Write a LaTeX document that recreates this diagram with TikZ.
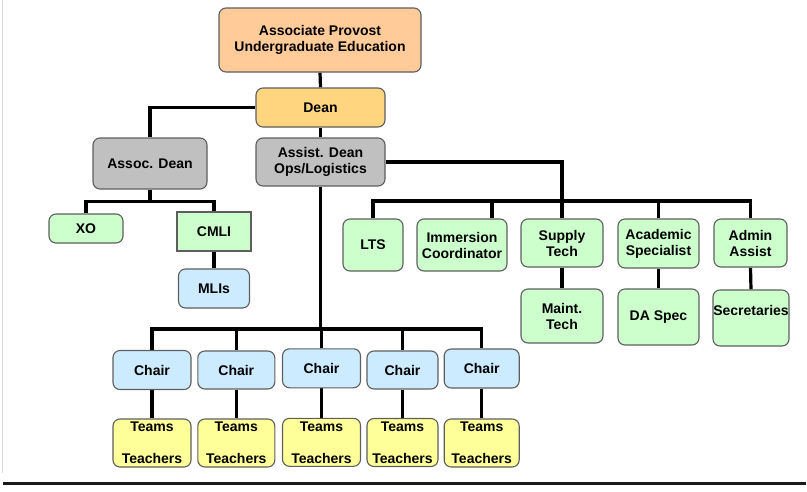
\documentclass[tikz,border=0pt]{standalone}
\usepackage{fontspec}
\setmainfont{Liberation Sans}
\usetikzlibrary{backgrounds}
\definecolor{peach}{HTML}{FFCC99}
\definecolor{gold}{HTML}{FFD580}
\definecolor{midgray}{HTML}{C0C0C0}
\definecolor{lgreen}{HTML}{CCFFCC}
\definecolor{lblue}{HTML}{CCEBFF}
\definecolor{lyellow}{HTML}{FFFF99}
\definecolor{bordergray}{HTML}{5E5E5E}
\definecolor{edgegray}{HTML}{D8D8D8}
\tikzset{
  box/.style={draw=bordergray, line width=1.1pt, rounded corners=7pt, inner sep=0pt,
    align=center, text=black, font=\bfseries\fontsize{14}{16}\selectfont},
  sz/.style 2 args={minimum width=#1, minimum height=#2},
  con/.style={line width=3.2pt, draw=black},
}
\begin{document}
\begin{tikzpicture}[x=1pt, y=-1pt]
\useasboundingbox (0,0) rectangle (807,491);
% frame lines
\draw[edgegray, line width=1pt] (2.7,0) coordinate (fl1) -- (2.7,473) coordinate (fl2);
\draw[black!90, line width=2.3pt] (3,483.5) coordinate (bl1) -- (806,483.5) coordinate (bl2);

% top
\node[box, fill=peach, sz={202}{64}] (prov) at (320,40) {Associate Provost\\Undergraduate Education};
\node[box, fill=gold, sz={129}{39}] (dean) at (320.5,107.5) {Dean};
\node[box, fill=midgray, sz={114}{51}] (adean) at (150,163.5) {Assoc. Dean};
\node[box, fill=midgray, sz={129}{48}] (asdean) at (320.5,162) {Assist. Dean\\Ops/Logistics};

% assoc dean branch
\node[box, fill=lgreen, sz={74}{29}] (xo) at (86,228.5) {XO};
\node[box, fill=lgreen, sz={74}{39}, rounded corners=0pt] (cmli) at (214,231.5) {CMLI};
\node[box, fill=lblue, sz={71}{39}] (mlis) at (214,288.5) {MLIs};

% ops branch
\node[box, fill=lgreen, sz={60}{52}] (lts) at (373,245) {LTS};
\node[box, fill=lgreen, sz={90}{52}] (imm) at (462,245) {Immersion\\Coordinator};
\node[box, fill=lgreen, sz={82}{48}] (sup) at (562,243) {Supply\\Tech};
\node[box, fill=lgreen, sz={81}{49}] (acad) at (658.5,243.5) {Academic\\Specialist};
\node[box, fill=lgreen, sz={73}{48}] (admin) at (750.5,243) {Admin\\Assist};
\node[box, fill=lgreen, sz={82}{54}] (maint) at (562,316) {Maint.\\Tech};
\node[box, fill=lgreen, sz={81}{56}] (daspec) at (658.5,317) {DA Spec};
\node[box, fill=lgreen, sz={76}{56}] (secr) at (751,318) {\raisebox{16pt}{Secretaries}};

% chairs
\node[box, fill=lblue, sz={78}{39}] (c1) at (152,370) {Chair};
\node[box, fill=lblue, sz={77}{38}] (c2) at (236.3,370) {Chair};
\node[box, fill=lblue, sz={78}{39}] (c3) at (321.5,368.3) {Chair};
\node[box, fill=lblue, sz={71}{38}] (c4) at (402.5,370) {Chair};
\node[box, fill=lblue, sz={75}{39}] (c5) at (481.7,368.5) {Chair};

\node[box, fill=lyellow, sz={78}{48}] (t1) at (152,443) {Teams\\[16pt]Teachers};
\node[box, fill=lyellow, sz={77}{48}] (t2) at (236.3,443) {Teams\\[16pt]Teachers};
\node[box, fill=lyellow, sz={78}{48}] (t3) at (321.5,442.3) {Teams\\[16pt]Teachers};
\node[box, fill=lyellow, sz={71}{48}] (t4) at (402.5,442.5) {Teams\\[16pt]Teachers};
\node[box, fill=lyellow, sz={75}{48}] (t5) at (481.7,443) {Teams\\[16pt]Teachers};

\coordinate (busA) at (0,201.5);
\coordinate (busB) at (0,201);
\coordinate (busC) at (0,329);

\begin{pgfonlayer}{background}
\draw[con] (prov.south) -- (dean.north);
\draw[con] (dean.west) -| (adean.north);
\draw[con] (dean.south) -- (asdean.north);
% assoc dean
\draw[con] (adean.south) -- (adean.south |- busA);
\draw[con] (xo.north) |- (cmli.north |- busA) -- (cmli.north);
\draw[con] (cmli.south) -- (mlis.north);
% ops
\draw[con] (asdean.east) -| (sup.north);
\draw[con] (lts.north) |- (admin.north |- busB) -- (admin.north);
\draw[con] ([xshift=30pt]imm.north) -- ([xshift=30pt]imm.north |- busB);
\draw[con] (acad.north) -- (acad.north |- busB);
\draw[con] (sup.south) -- (maint.north);
\draw[con] (acad.south) -- (daspec.north);
\draw[con] (admin.south) -- (secr.north);
% chairs
\draw[con] (asdean.south) -- (asdean.south |- busC);
\draw[con] (c1.north) |- (c5.north |- busC) -- (c5.north);
\draw[con] (c2.north) -- (c2.north |- busC);
\draw[con] (c3.north) -- (c3.north |- busC);
\draw[con] (c4.north) -- (c4.north |- busC);
\foreach \i in {1,...,5} { \draw[con] (c\i.south) -- (t\i.north); }
\end{pgfonlayer}
\end{tikzpicture}
\end{document}
